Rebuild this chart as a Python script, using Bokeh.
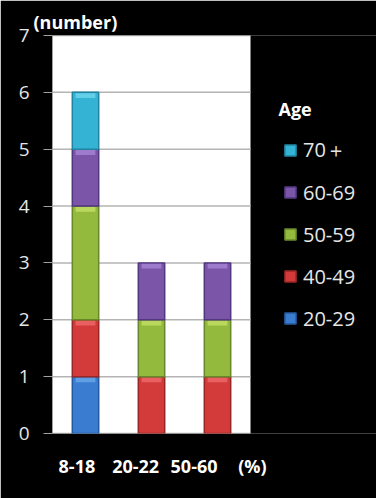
from bokeh.plotting import figure
from bokeh.models import Range1d, FixedTicker, Label, Legend, LegendItem, BoxAnnotation
from bokeh.embed import file_html
from bokeh.resources import INLINE

categories = ["8-18", "20-22", "50-60"]
x_unit_label = "(%)"
y_unit_label = "(number)"
legend_title = "Age"
age_groups = ["20-29", "40-49", "50-59", "60-69", "70\uff0b"]
v_20_29 = [1, 0, 0]
v_40_49 = [1, 1, 1]
v_50_59 = [2, 1, 1]
v_60_69 = [1, 1, 1]
v_70_plus = [1, 0, 0]
series = [v_20_29, v_40_49, v_50_59, v_60_69, v_70_plus]
y_ticks = [0, 1, 2, 3, 4, 5, 6, 7]

# horizontal placement of the x labels (the source typed them as one text row)
x_label_pos = [0.37, 1.26, 2.145, 3.03]

fills = ["#3a7ccf", "#d33b3b", "#93b93d", "#7a55a8", "#35b3d5"]
edges = ["#24589c", "#982626", "#66872a", "#523780", "#21839f"]
tops = ["#6aa6ea", "#ef6a6a", "#c6e066", "#a784d4", "#6fd6ee"]

FONT = "Open Sans"
n = len(categories)
xpos = [i + 0.5 for i in range(n)]

p = figure(x_range=Range1d(0, n * 324 / 198), y_range=Range1d(0, 7),
           width=376, height=498, output_backend="svg", toolbar_location=None,
           min_border_left=52, min_border_right=0, min_border_top=35, min_border_bottom=65)
p.background_fill_color = "black"
p.border_fill_color = "black"
p.outline_line_color = None
p.xgrid.visible = False
p.ygrid.visible = False

# white plotting area behind the categories
p.add_layout(BoxAnnotation(left=0, right=n, fill_color="white", fill_alpha=1,
                           line_color=None, level="underlay"))
# horizontal grid lines across the category area
p.segment(x0=[0] * len(y_ticks), x1=[n] * len(y_ticks), y0=y_ticks, y1=y_ticks,
          line_color="#b4b4b4", line_width=1.5)

renderers = []
base = [0] * n
for i, vals in enumerate(series):
    xs, bots, tps = [], [], []
    for x, b, v in zip(xpos, base, vals):
        if v > 0:
            xs.append(x); bots.append(b); tps.append(b + v)
    r = p.vbar(x=xs, bottom=bots, top=tps, width=0.4, fill_color=fills[i],
               line_color=edges[i], line_width=1.5)
    p.vbar(x=xs, bottom=[t - 0.1 for t in tps], top=[t - 0.015 for t in tps], width=0.3,
           fill_color=tops[i], line_color=None, fill_alpha=0.8)
    renderers.append(r)
    base = [b + v for b, v in zip(base, vals)]

p.yaxis.ticker = FixedTicker(ticks=y_ticks)
p.yaxis.axis_line_color = "#a0a0a0"
p.yaxis.major_tick_line_color = "#a0a0a0"
p.yaxis.major_tick_out = 9
p.yaxis.major_tick_in = 0
p.yaxis.minor_tick_line_color = None
p.yaxis.major_label_standoff = 14
p.yaxis.major_label_text_color = "#e6e6e6"
p.yaxis.major_label_text_font = FONT
p.yaxis.major_label_text_font_size = "19px"

p.xaxis.ticker = FixedTicker(ticks=x_label_pos)
p.xaxis.major_label_overrides = {t: s for t, s in zip(x_label_pos, categories + [x_unit_label])}
p.xaxis.axis_line_color = None
p.xaxis.major_tick_line_color = None
p.xaxis.minor_tick_line_color = None
p.xaxis.major_label_standoff = 14
p.xaxis.major_label_text_color = "white"
p.xaxis.major_label_text_font = FONT
p.xaxis.major_label_text_font_style = "bold"
p.xaxis.major_label_text_font_size = "18px"

p.title.text = y_unit_label
p.title.align = "left"
p.title.offset = -19
p.title.standoff = 3
p.title.text_color = "white"
p.title.text_font = FONT
p.title.text_font_style = "bold"
p.title.text_font_size = "18px"

p.add_layout(Label(x=3.424, y=5.716, text=legend_title, text_color="white", text_font=FONT,
                   text_font_style="bold", text_font_size="18px", text_baseline="middle"))

items = [LegendItem(label=age_groups[i], renderers=[renderers[i]]) for i in range(4, -1, -1)]
legend = Legend(items=items, location=(231, 101), padding=0, margin=0, spacing=14,
                glyph_width=14, glyph_height=14, label_height=28, label_standoff=6,
                label_text_color="#e6e6e6", label_text_font=FONT, label_text_font_size="20px",
                border_line_color=None, background_fill_alpha=0)
p.add_layout(legend)

open("out.html", "w").write(file_html(p, INLINE))
